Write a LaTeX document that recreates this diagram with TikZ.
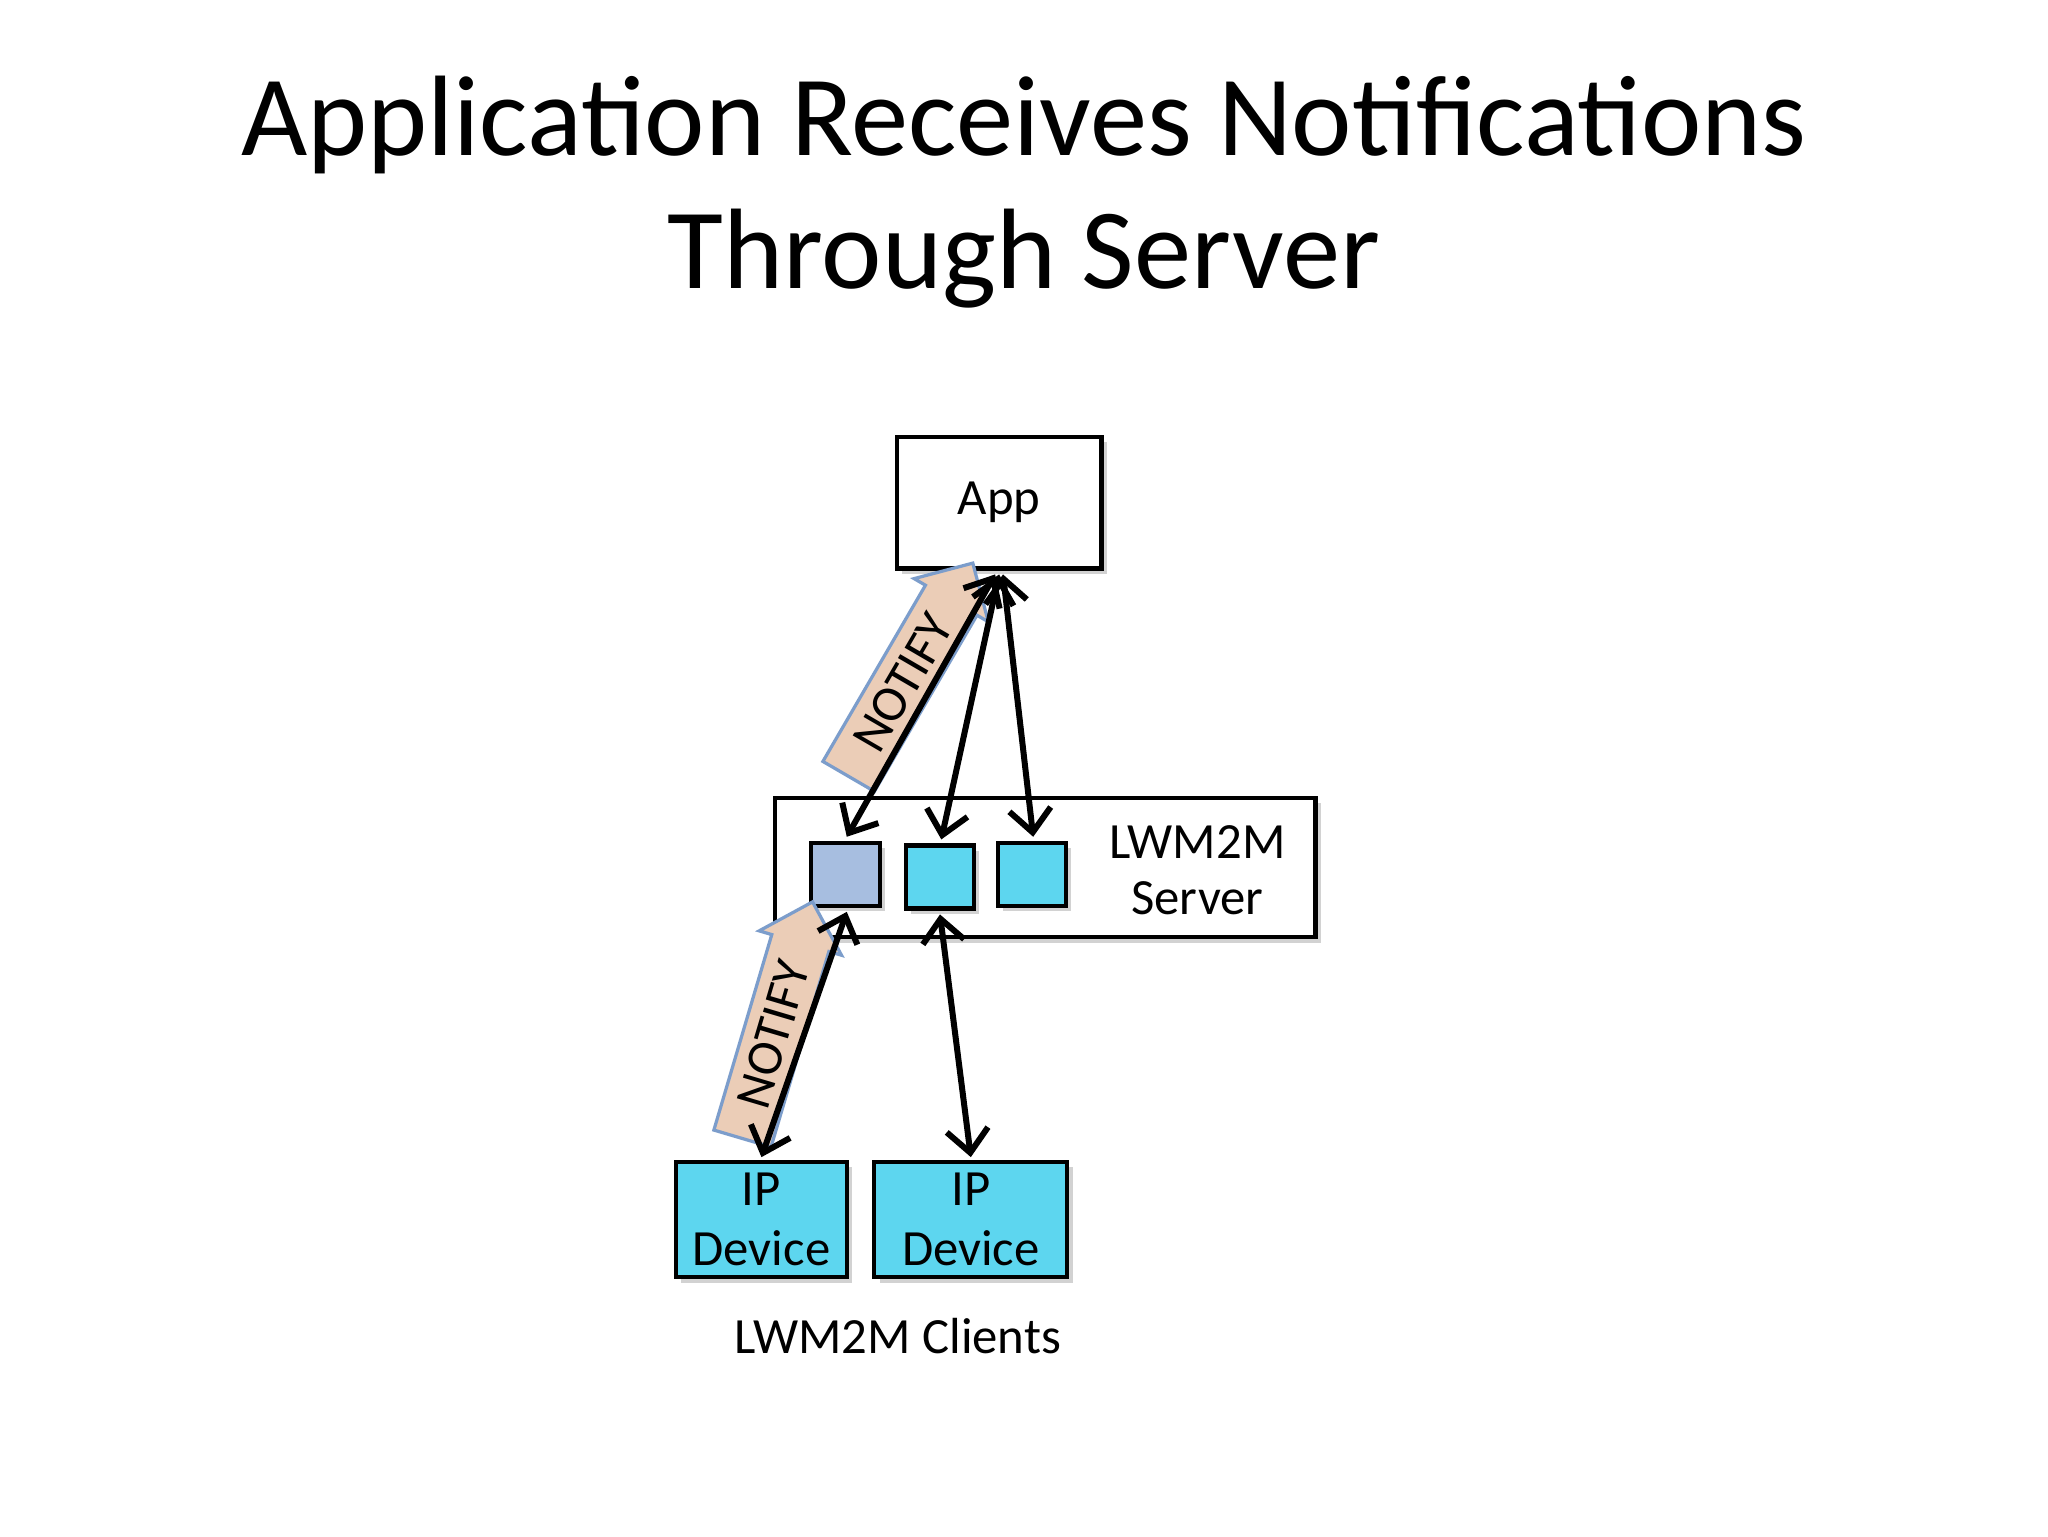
\documentclass[tikz,border=0pt]{standalone}
\usepackage{fontspec}
\setmainfont{Carlito}
\usetikzlibrary{arrows.meta,shapes.arrows,shadows}
\definecolor{cyanbox}{HTML}{5DD6EF}
\definecolor{greybox}{HTML}{A7BEE0}
\definecolor{peach}{HTML}{EBCDB7}
\definecolor{peachedge}{HTML}{7C9DCB}
\tikzset{
  box/.style={draw=black,line width=0.9pt,fill=white,inner sep=0pt,drop shadow={opacity=0.35,shadow xshift=0.4mm,shadow yshift=-0.4mm}},
  lbl/.style={font=\fontsize{11}{13}\selectfont,align=center},
  conn/.style={line width=1.3pt,{Straight Barb[length=5pt,width=9pt]}-{Straight Barb[length=5pt,width=9pt]}},
  notify/.style={single arrow,draw=peachedge,fill=peach,line width=0.7pt,minimum height=1.88cm,minimum width=0.52cm,single arrow head extend=0.1cm,inner sep=2.5pt,font=\fontsize{11}{13}\selectfont}
}
\begin{document}
\begin{tikzpicture}[x=1cm,y=1cm]
\useasboundingbox (0,0) rectangle (15.6,11.7);
\fill[white] (0,0) rectangle (15.6,11.7);
\node[font=\fontsize{24.8}{30}\selectfont] (t1) at (7.8,10.75) {Application Receives Notifications};
\node[font=\fontsize{24.8}{30}\selectfont] (t2) at (7.8,9.73) {Through Server};
% boxes
\node[box,minimum width=1.56cm,minimum height=1.0cm,lbl] (app) at (7.61,7.87) {App};
\node[box,minimum width=4.12cm,minimum height=1.06cm] (srv) at (7.96,5.09) {};
\node[lbl] (srvl) at (9.12,5.07) {LWM2M\\[-1pt]Server};
\node[box,fill=greybox,minimum width=0.52cm,minimum height=0.48cm] (s1) at (6.44,5.04) {};
\node[box,fill=cyanbox,minimum width=0.52cm,minimum height=0.48cm] (s2) at (7.16,5.02) {};
\node[box,fill=cyanbox,minimum width=0.52cm,minimum height=0.48cm] (s3) at (7.86,5.04) {};
\node[box,fill=cyanbox,minimum width=1.30cm,minimum height=0.88cm,lbl] (d1) at (5.80,2.41) {IP\\Device};
\node[box,fill=cyanbox,minimum width=1.47cm,minimum height=0.88cm,lbl] (d2) at (7.395,2.41) {IP\\Device};
\node[lbl] (cl) at (6.84,1.52) {LWM2M Clients};
% notify arrows
\node[notify,rotate=59.8] (n1) at (6.88,6.50) {NOTIFY};
\node[notify,rotate=73.5] (n2) at (5.89,3.82) {NOTIFY};
% connector endpoints
\coordinate (a1) at ([xshift=-0.03cm,yshift=-0.03cm]app.south);
\coordinate (a2) at ([xshift=0.0cm,yshift=-0.03cm]app.south);
\coordinate (a3) at ([xshift=0.03cm,yshift=-0.03cm]app.south);
\draw[conn] (a1) -- ([xshift=0.01cm,yshift=0.03cm]s1.north);
\draw[conn] (a2) -- ([xshift=0.01cm,yshift=0.03cm]s2.north);
\draw[conn] (a3) -- ([xshift=0.01cm,yshift=0.03cm]s3.north);
\draw[conn] ([xshift=0.01cm,yshift=-0.03cm]s1.south) -- ([yshift=0.02cm]d1.north);
\draw[conn] ([yshift=-0.03cm]s2.south) -- ([yshift=0.02cm]d2.north);
\end{tikzpicture}
\end{document}
